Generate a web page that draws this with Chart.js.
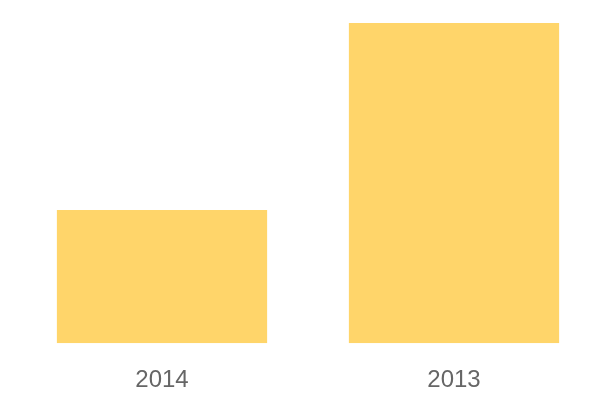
<!DOCTYPE html>
<html>
<head>
<meta charset="utf-8">
<script src="https://cdn.jsdelivr.net/npm/chart.js@4"></script>
<style>
html,body{margin:0;padding:0;background:#fff;}
#wrap{width:600px;height:400px;}
</style>
</head>
<body>
<div id="wrap"><canvas id="c" width="600" height="400"></canvas></div>
<script>
const categories = ["2014", "2013"];
const values = [133, 320];
const barColor = "#FFD56A";

new Chart(document.getElementById("c"), {
  type: "bar",
  data: {
    labels: categories,
    datasets: [{ data: values, backgroundColor: barColor, borderWidth: 0 }]
  },
  options: {
    responsive: false,
    animation: false,
    layout: { padding: { left: 16, right: 0, top: 23, bottom: -18 } },
    plugins: { legend: { display: false }, tooltip: { enabled: false } },
    scales: {
      x: {
        grid: { display: false, drawTicks: false },
        border: { display: false },
        ticks: { color: "#666", padding: 23, font: { family: "Liberation Sans, Arial, sans-serif", size: 24 } }
      },
      y: { display: false, min: 0, max: 320 }
    }
  }
});
</script>
</body>
</html>
